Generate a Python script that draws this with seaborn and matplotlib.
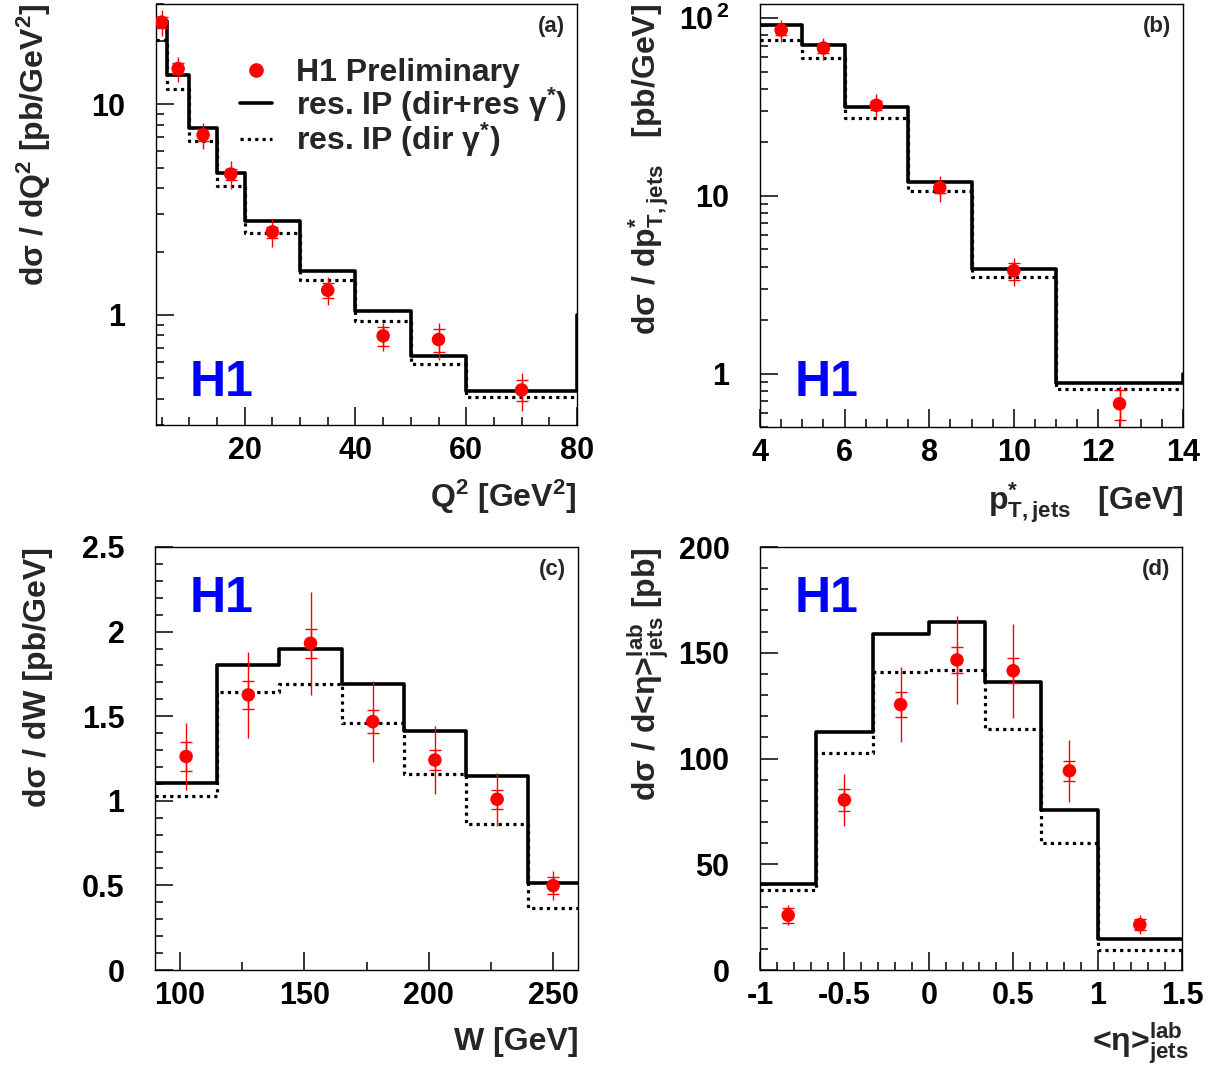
import numpy as np
import pandas as pd
import matplotlib
matplotlib.use("Agg")
import matplotlib.pyplot as plt
import seaborn as sns
from matplotlib.lines import Line2D
from matplotlib.ticker import MultipleLocator, FixedLocator, FixedFormatter, LogLocator, NullFormatter

# ---------------- data ----------------
# (a) Q^2
q2_edges = [4, 6, 10, 15, 20, 30, 40, 50, 60, 80, 100]
q2_full = [25.0, 13.8, 7.76, 4.72, 2.79, 1.62, 1.04, 0.638, 0.435, 1.0]
q2_dir = [20.3, 11.8, 6.73, 4.11, 2.44, 1.47, 0.933, 0.587, 0.408]
q2_x = [5, 8, 12.5, 17.5, 25, 35, 45, 55, 70]
q2_y = [24.6, 14.8, 7.16, 4.67, 2.48, 1.31, 0.796, 0.764, 0.44]
q2_tot = [3.5, 2.0, 1.0, 0.7, 0.37, 0.2, 0.12, 0.15, 0.09]
q2_stat = [1.5, 0.9, 0.45, 0.28, 0.15, 0.11, 0.083, 0.096, 0.051]

# (b) pT*
pt_edges = [4, 5, 6, 7.5, 9, 11, 14, 16]
pt_full = [91.4, 70.8, 31.5, 11.9, 3.86, 0.887, 1.0]
pt_dir = [75.6, 59.9, 27.5, 10.7, 3.51, 0.816]
pt_x = [4.5, 5.5, 6.75, 8.25, 10, 12.5]
pt_y = [85.7, 67.8, 32.3, 11.1, 3.79, 0.676]
pt_tot = [12.0, 9.5, 5.0, 1.85, 0.67, 0.17]
pt_stat = [5.0, 4.0, 2.0, 0.7, 0.42, 0.13]

# (c) W
w_edges = [90, 115, 140, 165, 190, 215, 240, 260]
w_full = [1.104, 1.805, 1.898, 1.693, 1.413, 1.148, 0.514]
w_dir = [1.030, 1.643, 1.691, 1.460, 1.160, 0.861, 0.369]
w_x = [102.5, 127.5, 152.5, 177.5, 202.5, 227.5, 250]
w_y = [1.262, 1.626, 1.931, 1.468, 1.241, 1.009, 0.499]
w_tot = [0.20, 0.255, 0.305, 0.24, 0.20, 0.155, 0.085]
w_stat = [0.085, 0.083, 0.085, 0.068, 0.058, 0.055, 0.05]

# (d) <eta>
eta_edges = [-1, -0.667, -0.333, 0, 0.333, 0.667, 1, 1.5]
eta_full = [40.8, 112.7, 159.1, 164.6, 136.0, 75.8, 14.7]
eta_dir = [37.9, 102.6, 140.7, 141.7, 113.9, 60.2, 9.6]
eta_x = [-0.833, -0.5, -0.167, 0.167, 0.5, 0.833, 1.25]
eta_y = [25.9, 80.4, 125.5, 146.6, 141.5, 94.2, 21.4]
eta_tot = [4.7, 12.1, 17.6, 20.8, 22.3, 14.7, 4.4]
eta_stat = [3.5, 5.0, 5.9, 6.2, 5.9, 4.8, 2.5]

# ---------------- style ----------------
sns.set_theme(style="ticks")
plt.rcParams["font.family"] = ["Liberation Sans", "DejaVu Sans"]
plt.rcParams["font.weight"] = "bold"
plt.rcParams["axes.labelweight"] = "bold"
plt.rcParams["mathtext.fontset"] = "custom"
plt.rcParams["mathtext.rm"] = "Liberation Sans:bold"
plt.rcParams["mathtext.bf"] = "Liberation Sans:bold"
plt.rcParams["mathtext.it"] = "Liberation Sans:bold:italic"
plt.rcParams["mathtext.sf"] = "Liberation Sans:bold"
plt.rcParams["mathtext.default"] = "rm"

TICK_FS = 22
LAB_FS = 23
DOT = (0, (1.0, 1.3))

fig = plt.figure(figsize=(12.17, 10.89), dpi=100)
W, H = 1217.0, 1089.0


def make_axes(l, r, t, b):
    return fig.add_axes([l / W, 1 - b / H, (r - l) / W, (b - t) / H])


def hist_line(ax, edges, vals, ls, lw):
    n = len(vals)
    e = [float(v) for v in edges[:n + 1]]
    centers = [0.5 * (e[i] + e[i + 1]) for i in range(n)]
    df = pd.DataFrame({"x": centers, "w": list(vals)})
    sns.histplot(data=df, x="x", weights="w", bins=e, element="step",
                 fill=False, color="black", linewidth=lw, linestyle=ls, ax=ax,
                 zorder=3)


def panel(ax, edges_full, full, dirr, x, y, tot, stat):
    hist_line(ax, edges_full, dirr, DOT, 2.3)
    hist_line(ax, edges_full, full, "-", 2.6)
    ax.errorbar(x, y, yerr=tot, fmt="none", ecolor="red", elinewidth=1.0,
                capsize=0, zorder=4)
    ax.errorbar(x, y, yerr=stat, fmt="none", ecolor="red", elinewidth=1.0,
                capsize=4.5, capthick=1.0, zorder=4)
    sns.scatterplot(x=x, y=y, color="red", s=95, edgecolor="none", zorder=5,
                    ax=ax, legend=False)
    ax.tick_params(which="both", direction="in", top=False, right=False,
                   width=1.1, colors="black", labelsize=TICK_FS)
    ax.tick_params(which="major", length=13)
    ax.tick_params(which="minor", length=6)
    ax.tick_params(axis="x", pad=8)
    ax.tick_params(axis="y", pad=22)
    for s in ax.spines.values():
        s.set_linewidth(1.0)
        s.set_color("black")
    ax.grid(False)


# (a)
axa = make_axes(156, 577, 4, 425)
panel(axa, q2_edges, q2_full, q2_dir, q2_x, q2_y, q2_tot, q2_stat)
axa.set_yscale("log")
axa.set_xlim(4, 80)
axa.set_ylim(0.3, 30)
axa.xaxis.set_major_locator(MultipleLocator(20))
axa.xaxis.set_minor_locator(MultipleLocator(5))
axa.yaxis.set_major_locator(FixedLocator([1, 10]))
axa.yaxis.set_major_formatter(FixedFormatter(["1", "10"]))
axa.yaxis.set_minor_locator(LogLocator(subs=np.arange(2, 10)))
axa.yaxis.set_minor_formatter(NullFormatter())

# (b)
axb = make_axes(760, 1183, 4, 427)
panel(axb, pt_edges, pt_full, pt_dir, pt_x, pt_y, pt_tot, pt_stat)
axb.set_yscale("log")
axb.set_xlim(4, 14)
axb.set_ylim(0.5, 120)
axb.xaxis.set_major_locator(MultipleLocator(2))
axb.xaxis.set_minor_locator(MultipleLocator(0.5))
axb.yaxis.set_major_locator(FixedLocator([1, 10, 100]))
axb.yaxis.set_major_formatter(FixedFormatter(["1", "10", "10$^{\\,2}$"]))
axb.yaxis.set_minor_locator(LogLocator(subs=np.arange(2, 10)))
axb.yaxis.set_minor_formatter(NullFormatter())

# (c)
axc = make_axes(155, 578, 547, 970)
panel(axc, w_edges, w_full, w_dir, w_x, w_y, w_tot, w_stat)
axc.set_xlim(90, 260)
axc.set_ylim(0, 2.5)
axc.xaxis.set_major_locator(MultipleLocator(50))
axc.xaxis.set_minor_locator(MultipleLocator(25))
axc.yaxis.set_major_locator(FixedLocator([0, 0.5, 1, 1.5, 2, 2.5]))
axc.yaxis.set_major_formatter(FixedFormatter(["0", "0.5", "1", "1.5", "2", "2.5"]))
axc.yaxis.set_minor_locator(MultipleLocator(0.1))

# (d)
axd = make_axes(760, 1182, 547, 970)
panel(axd, eta_edges, eta_full, eta_dir, eta_x, eta_y, eta_tot, eta_stat)
axd.set_xlim(-1, 1.5)
axd.set_ylim(0, 200)
axd.xaxis.set_major_locator(FixedLocator([-1, -0.5, 0, 0.5, 1, 1.5]))
axd.xaxis.set_major_formatter(FixedFormatter(["-1", "-0.5", "0", "0.5", "1", "1.5"]))
axd.xaxis.set_minor_locator(MultipleLocator(0.1))
axd.yaxis.set_major_locator(MultipleLocator(50))
axd.yaxis.set_minor_locator(MultipleLocator(10))


# axis titles
def titles(ax, xl, yl, xpos, ypos_y, ylx):
    ax.set_xlabel(xl, fontsize=LAB_FS, loc="right")
    ax.xaxis.set_label_coords(xpos, ypos_y)
    ax.set_ylabel(yl, fontsize=LAB_FS, loc="top")
    ax.yaxis.set_label_coords(ylx, 1.0)


titles(axa, "Q$^{2}$ [GeV$^{2}$]", "dσ / dQ$^{2}$ [pb/GeV$^{2}$]", 1.0, -0.126, -0.245)
titles(axb, "p$^{*}_{T,jets}$   [GeV]", "dσ / dp$^{*}_{T,jets}$   [pb/GeV]", 1.0, -0.125, -0.21)
titles(axc, "W [GeV]", "dσ / dW [pb/GeV]", 1.0, -0.135, -0.242)
titles(axd, "<η>$^{lab}_{jets}$", "dσ / d<η>$^{lab}_{jets}$ [pb]", 1.017, -0.118, -0.21)

# panel tags and H1 logos
for ax, tag in [(axa, "(a)"), (axb, "(b)"), (axc, "(c)"), (axd, "(d)")]:
    ax.text(0.972, 0.972, tag, transform=ax.transAxes, ha="right", va="top",
            fontsize=16, fontweight="bold")
for ax, (hx, hy) in [(axa, (0.081, 0.069)), (axb, (0.083, 0.073)),
                     (axc, (0.083, 0.846)), (axd, (0.083, 0.846))]:
    ax.text(hx, hy, "H1", transform=ax.transAxes, ha="left", va="baseline",
            fontsize=36, fontweight="bold", color="#0000ff")

# legend in (a)
handles = [Line2D([], [], marker="o", color="red", ls="none", ms=9.5),
           Line2D([], [], color="black", lw=2.6),
           Line2D([], [], color="black", lw=2.3, ls=DOT)]
labels = ["H1 Preliminary", "res. IP (dir+res γ$^{*}$)", "res. IP (dir γ$^{*}$)"]
axa.legend(handles, labels, loc="upper left", bbox_to_anchor=(0.2, 0.872),
           frameon=False, fontsize=LAB_FS, handlelength=1.0, handletextpad=0.75,
           labelspacing=-0.08, borderpad=0, borderaxespad=0)

fig.savefig("out.png", dpi=100)
